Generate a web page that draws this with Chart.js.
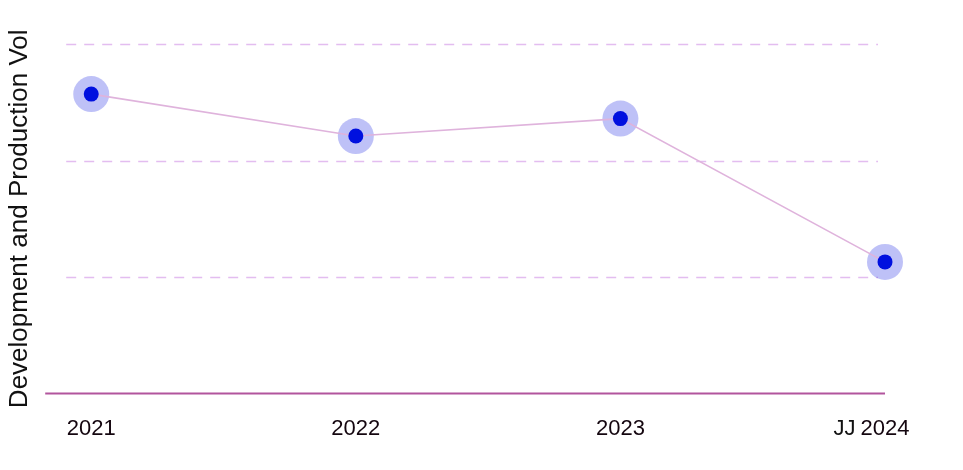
<!DOCTYPE html>
<html>
<head>
<meta charset="utf-8">
<script src="https://cdn.jsdelivr.net/npm/chart.js@4/dist/chart.umd.min.js"></script>
<style>
  html, body { margin: 0; padding: 0; background: #ffffff; }
  #wrap { width: 963px; height: 470px; }
</style>
</head>
<body>
<div id="wrap"><canvas id="volChart" width="963" height="470"></canvas></div>
<script>
/* Daten */
const years = [2021, 2022, 2023, 2024];
const yearLabels = ['2021', '2022', '2023', '2024'];
const volumes = [257, 221, 236, 113];
const gridValues = [100, 200, 300];
const axisTitle = 'Development and Production Vol';
const extraLabel = 'JJ';

const fontFamily = '"Liberation Sans", Arial, Helvetica, sans-serif';

/* Punkte aus den Arrays bauen */
const points = years.map((y, i) => ({ x: y, y: volumes[i] }));

/* Gestrichelte Gitterlinien + Grundlinie selbst zeichnen */
const gridPlugin = {
    id: 'gridPlugin',
    beforeDatasetsDraw(chart) {
        const ctx = chart.ctx;
        const area = chart.chartArea;
        const yScale = chart.scales.y;
        ctx.save();
        ctx.strokeStyle = '#e3bdf0';
        ctx.lineWidth = 1.5;
        ctx.setLineDash([10, 8]);
        gridValues.forEach(v => {
            const py = Math.round(yScale.getPixelForValue(v)) + 0.5;
            ctx.beginPath();
            ctx.moveTo(area.left + 21, py);
            ctx.lineTo(area.right - 7, py);
            ctx.stroke();
        });
        ctx.setLineDash([]);
        ctx.strokeStyle = '#b2559d';
        ctx.lineWidth = 2;
        const by = yScale.getPixelForValue(0);
        ctx.beginPath();
        ctx.moveTo(area.left, by);
        ctx.lineTo(area.right, by);
        ctx.stroke();
        ctx.restore();
    },
    afterDraw(chart) {
        /* "JJ" links neben dem letzten Label */
        const ctx = chart.ctx;
        const xScale = chart.scales.x;
        const last = years[years.length - 1];
        ctx.save();
        ctx.font = '22px ' + fontFamily;
        const w = ctx.measureText(yearLabels[yearLabels.length - 1]).width;
        const px = xScale.getPixelForValue(last) - w / 2 - 5;
        ctx.fillStyle = '#111111';
        ctx.textAlign = 'right';
        ctx.textBaseline = 'middle';
        ctx.fillText(extraLabel, px, chart.chartArea.bottom + 35);
        ctx.restore();
    }
};

const ctx = document.getElementById('volChart').getContext('2d');
const myChart = new Chart(ctx, {
    type: 'line',
    data: {
        datasets: [
            {
                /* heller Hof um die Punkte */
                data: points,
                showLine: false,
                pointRadius: 18,
                pointHoverRadius: 18,
                pointBackgroundColor: 'rgba(40, 50, 230, 0.3)',
                pointBorderWidth: 0,
                order: 2
            },
            {
                data: points,
                borderColor: '#dfb3dc',
                borderWidth: 1.6,
                tension: 0,
                pointRadius: 7.5,
                pointHoverRadius: 7.5,
                pointBackgroundColor: '#0010df',
                pointBorderWidth: 0,
                order: 1
            }
        ]
    },
    options: {
        responsive: false,
        animation: false,
        clip: false,
        layout: {
            padding: { top: 44, right: 78, bottom: 6, left: 0 }
        },
        plugins: {
            legend: { display: false },
            tooltip: { enabled: false }
        },
        scales: {
            x: {
                type: 'linear',
                min: 2020.826,
                max: 2024,
                grid: { display: false, drawTicks: false },
                border: { display: false },
                afterBuildTicks: (scale) => {
                    scale.ticks = years.map(v => ({ value: v }));
                },
                ticks: {
                    padding: 22,
                    color: '#14060f',
                    font: { family: fontFamily, size: 22 },
                    maxRotation: 0,
                    autoSkip: false,
                    callback: (value) => {
                        const i = years.indexOf(value);
                        return i >= 0 ? yearLabels[i] : '';
                    }
                }
            },
            y: {
                min: 0,
                max: 300,
                grid: { display: false, drawTicks: false },
                border: { display: false },
                ticks: { display: false, stepSize: 100 },
                title: {
                    display: true,
                    text: axisTitle,
                    color: '#111111',
                    font: { family: fontFamily, size: 26, lineHeight: 1.2 },
                    padding: { top: 4, bottom: 10 }
                }
            }
        }
    },
    plugins: [gridPlugin]
});
</script>
</body>
</html>
